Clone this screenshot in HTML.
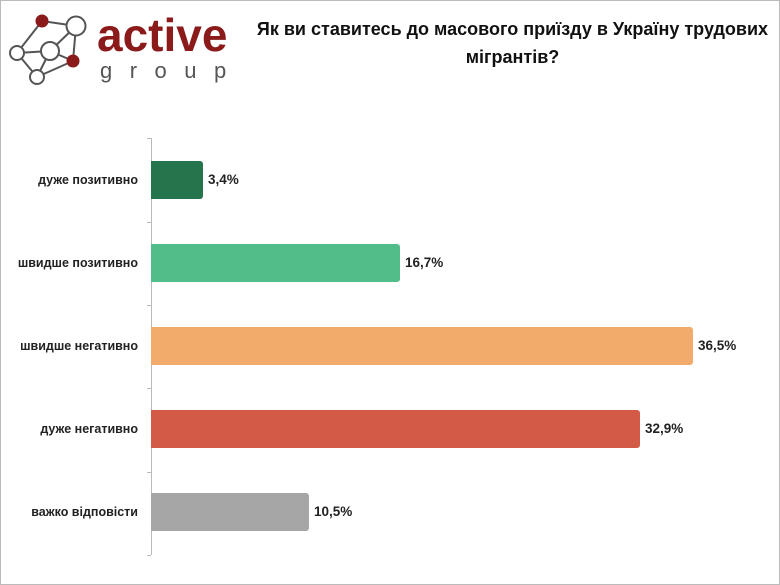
<!DOCTYPE html>
<html><head><meta charset="utf-8"><style>
body{margin:0;width:780px;height:585px;overflow:hidden;background:#fff;font-family:"Liberation Sans","DejaVu Sans",sans-serif}
.frame{position:absolute;left:0;top:0;width:778px;height:583px;border:1px solid #bbb}
.title{position:absolute;left:240px;top:15px;width:545px;text-align:center;font-weight:bold;font-size:18px;line-height:28px;color:#111}
.lbl{position:absolute;right:642px;font-size:12.5px;font-weight:bold;color:#222;white-space:nowrap}
.bar{position:absolute;left:151px;height:38px;border-radius:0 3px 3px 0}
.val{position:absolute;font-size:13.5px;font-weight:bold;color:#222}
.ax{position:absolute;left:151px;top:138px;width:1px;height:417px;background:#bbb}
.tk{position:absolute;left:147px;width:4px;height:1px;background:#bbb}
</style></head><body>
<div class="frame"></div>
<svg style="position:absolute;left:0;top:0" width="260" height="90">
<g stroke="#555" stroke-width="2" fill="none">
<line x1="42" y1="21" x2="76" y2="26"/><line x1="42" y1="21" x2="17" y2="53"/><line x1="76" y1="26" x2="50" y2="51"/><line x1="76" y1="26" x2="73" y2="61"/><line x1="17" y1="53" x2="50" y2="51"/><line x1="50" y1="51" x2="73" y2="61"/><line x1="17" y1="53" x2="37" y2="77"/><line x1="50" y1="51" x2="37" y2="77"/><line x1="73" y1="61" x2="37" y2="77"/>
</g>
<g stroke="#555" stroke-width="2" fill="#fff">
<circle cx="76" cy="26" r="9.5"/><circle cx="50" cy="51" r="9"/><circle cx="17" cy="53" r="7"/><circle cx="37" cy="77" r="7"/>
</g>
<circle cx="42" cy="21" r="6.5" fill="#8b1a1a"/><circle cx="73" cy="61" r="6.5" fill="#8b1a1a"/>
<text x="97" y="51" font-family="Liberation Sans" font-weight="bold" font-size="46" fill="#8b1a1a">active</text>
<text x="100" y="78" font-family="Liberation Sans" font-size="22" fill="#555" letter-spacing="17.5">group</text>
</svg>
<div class="title">Як ви ставитесь до масового приїзду в Україну трудових<br>мігрантів?</div>
<div class="ax"></div>
<div class="tk" style="top:138px"></div><div class="tk" style="top:222px"></div><div class="tk" style="top:305px"></div><div class="tk" style="top:388px"></div><div class="tk" style="top:472px"></div><div class="tk" style="top:555px"></div>
<div class="lbl" style="top:173px">дуже позитивно</div>
<div class="lbl" style="top:256px">швидше позитивно</div>
<div class="lbl" style="top:339px">швидше негативно</div>
<div class="lbl" style="top:422px">дуже негативно</div>
<div class="lbl" style="top:505px">важко відповісти</div>
<div class="bar" style="top:161px;width:52px;background:#26744c"></div>
<div class="bar" style="top:244px;width:249px;background:#52bd89"></div>
<div class="bar" style="top:327px;width:542px;background:#f3ab6b"></div>
<div class="bar" style="top:410px;width:489px;background:#d45a48"></div>
<div class="bar" style="top:493px;width:158px;background:#a6a6a6"></div>
<div class="val" style="left:208px;top:172px">3,4%</div>
<div class="val" style="left:405px;top:255px">16,7%</div>
<div class="val" style="left:698px;top:338px">36,5%</div>
<div class="val" style="left:645px;top:421px">32,9%</div>
<div class="val" style="left:314px;top:504px">10,5%</div>
</body></html>
